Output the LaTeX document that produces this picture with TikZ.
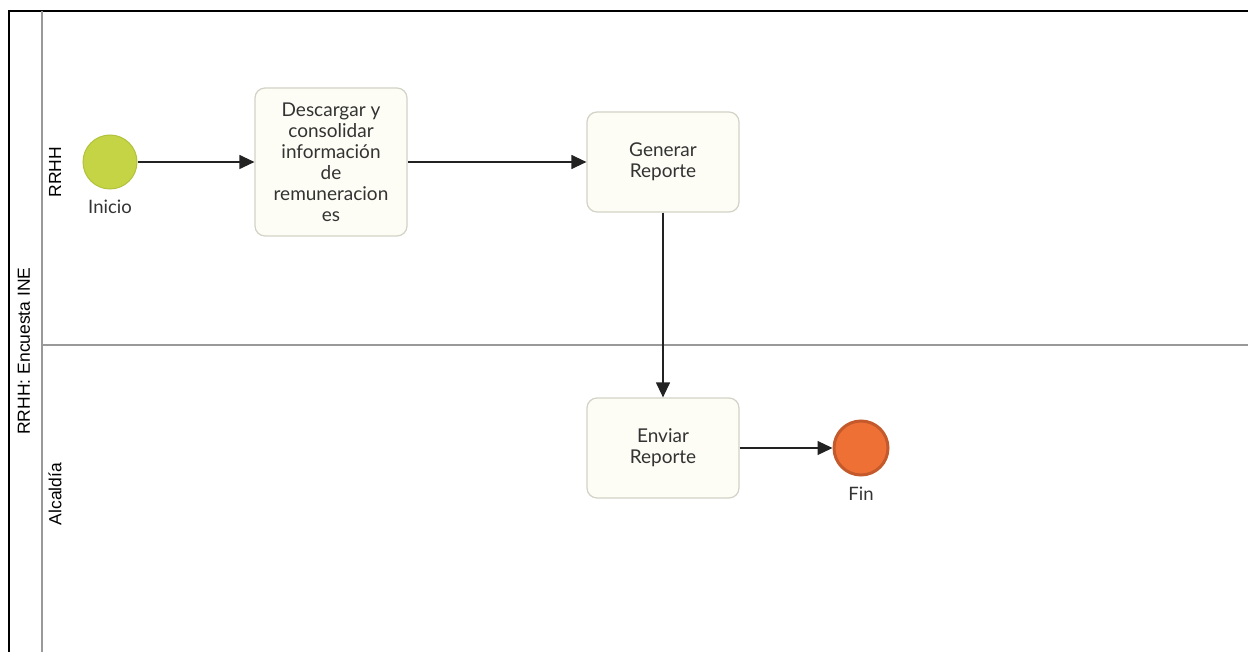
\documentclass[tikz,border=0pt]{standalone}
\usepackage{fontspec}
\setmainfont{Lato}
\newfontfamily\lanefont{Liberation Sans}
\usetikzlibrary{arrows.meta}
\definecolor{taskfill}{HTML}{FDFDF5}
\definecolor{taskline}{HTML}{D2D2C6}
\definecolor{startfill}{HTML}{C4D444}
\definecolor{startline}{HTML}{B2C23C}
\definecolor{endfill}{HTML}{EF7035}
\definecolor{endline}{HTML}{C45A2C}
\definecolor{laneline}{HTML}{999999}
\definecolor{flowline}{HTML}{222222}
\begin{document}
\begin{tikzpicture}[x=1pt,y=-1pt,
  task/.style={draw=taskline,fill=taskfill,line width=1.2pt,rounded corners=10pt,
    minimum width=152pt,minimum height=100pt,align=center,
    font=\fontsize{19}{21}\selectfont,text=black!80},
  startev/.style={circle,draw=startline,fill=startfill,line width=1pt,minimum size=54pt,inner sep=0pt},
  endev/.style={circle,draw=endline,fill=endfill,line width=3pt,minimum size=54pt,inner sep=0pt},
  evlabel/.style={font=\fontsize{18.5}{20}\selectfont,text=black!80},
  lanelabel/.style={font=\lanefont\fontsize{17.5}{20}\selectfont,rotate=90},
  flow/.style={draw=flowline,line width=1.2pt,-{Triangle[length=15pt,width=14pt]}}
]
\useasboundingbox (0,0) rectangle (1248,652);
% pool frame and lane separators
\draw[line width=1.8pt,black] (9,652) -- (9,11) -- (1248,11);
\draw[line width=2.2pt,laneline] (42,11) -- (42,652);
\draw[line width=1.3pt,laneline] (42,345) -- (1248,345);
% pool and lane titles
\node[lanelabel] (pool) at (24,351) {RRHH: Encuesta INE};
\node[lanelabel] (laneA) at (55,172) {RRHH};
\node[lanelabel] (laneB) at (55,494) {Alcaldía};
% flow elements
\node[startev] (start) at (110,162) {};
\node[evlabel] (startlbl) at (110,207) {Inicio};
\node[task,minimum height=148pt] (t1) at (331,162) {Descargar y\\consolidar\\información\\de\\remuneracion\\es};
\node[task] (t2) at (663,162) {Generar\\Reporte};
\node[task] (t3) at (663,448) {Enviar\\Reporte};
\node[endev] (fin) at (861,448) {};
\node[evlabel] (finlbl) at (861,494) {Fin};
% sequence flows
\draw[flow] (start) -- (t1);
\draw[flow] (t1) -- (t2);
\draw[flow] (t2) -- (t3);
\draw[flow] (t3) -- (fin);
\end{tikzpicture}
\end{document}
